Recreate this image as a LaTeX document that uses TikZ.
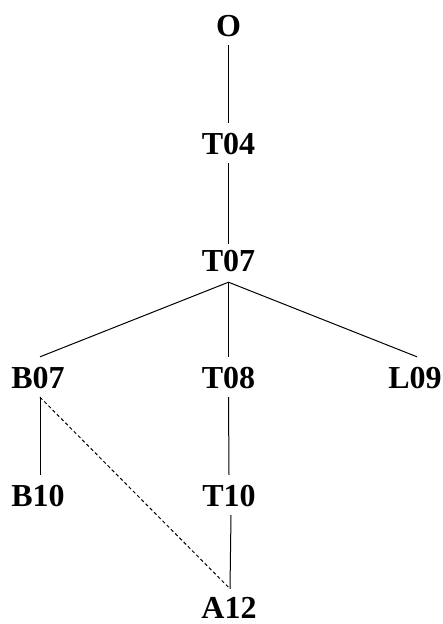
\documentclass[tikz,border=0pt]{standalone}
\usepackage{fontspec}
\setmainfont{Liberation Serif}
\begin{document}
\begin{tikzpicture}[x=1pt,y=-1pt,
  lbl/.style={anchor=base,font=\fontsize{32}{32}\selectfont\bfseries,
    text height=22pt,text depth=0pt,inner xsep=0pt,inner ysep=9pt},
  link/.style={line width=1pt},
  alt/.style={line width=1pt,dash pattern=on 3.4pt off 2.6pt}]
\useasboundingbox (0,0) rectangle (442,624);
% labels, placed on their baselines
\node[lbl] (O)   at (228.5,36)  {O};
\node[lbl] (T04) at (228.5,154) {T04};
\node[lbl] (T07) at (228.5,271) {T07};
\node[lbl] (B07) at (38,388)    {B07};
\node[lbl] (T08) at (228.5,388) {T08};
\node[lbl] (L09) at (415,388)   {L09};
\node[lbl] (B10) at (38,506)    {B10};
\node[lbl] (T10) at (229,506)   {T10};
\node[lbl] (A12) at (229,618)   {A12};
% tree edges
\draw[link] (O.south) -- (T04.north);
\draw[link] (T04.south) -- ([yshift=-4pt]T07.north);
\draw[link] ([yshift=-2pt]T07.south) -- ([xshift=2pt]B07.north);
\draw[link] ([yshift=-2pt]T07.south) -- (T08.north);
\draw[link] ([yshift=-2pt]T07.south) -- ([xshift=2pt]L09.north);
\draw[link] ([xshift=2pt]B07.south) -- ([xshift=2pt]B10.north);
\draw[link] (T08.south) -- (T10.north);
\draw[link] ([xshift=2pt]T10.south) -- ([xshift=1pt,yshift=-2pt]A12.north);
% cross link
\draw[alt] ([xshift=2pt]B07.south) -- ([xshift=1pt,yshift=-2pt]A12.north);
\end{tikzpicture}
\end{document}
